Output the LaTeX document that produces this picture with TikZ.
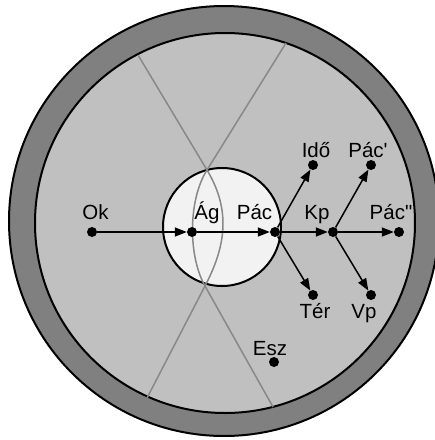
\documentclass[tikz,border=0pt]{standalone}
\usepackage{fontspec}
\setmainfont{Liberation Sans}[Ligatures=TeXOff]
\usetikzlibrary{arrows.meta}
\definecolor{ringgray}{RGB}{128,128,128}
\definecolor{discgray}{RGB}{192,192,192}
\definecolor{lensgray}{RGB}{242,242,242}
\definecolor{linegray}{RGB}{136,136,136}
\begin{document}
\begin{tikzpicture}[x=1pt,y=-1pt,
 dot/.style={circle,fill=black,inner sep=0pt,minimum size=10pt},
 lbl/.style={anchor=base,inner sep=0pt,font=\fontsize{20.5}{24}\selectfont},
 arr/.style={-{Triangle[length=12pt,width=9pt]},line width=1.5pt},
 cone/.style={draw=linegray,line width=1.5pt},
 rim/.style={draw=black,line width=2pt}]
\useasboundingbox (0,0) rectangle (435,440);
\draw[rim,fill=ringgray] (224,221) circle[radius=215];
\draw[rim,fill=discgray] (225,223) circle[radius=190];
\draw[rim,fill=lensgray] (222,227) circle[radius=59];
\draw[cone] (138,55) -- (207,170) .. controls (231,210) and (226,246) .. (205,286) -- (147,398);
\draw[cone] (286,43) -- (207,170) .. controls (188,200) and (188,256) .. (205,286) -- (273,407);
\node[dot] (ok) at (92,232) {};
\node[dot] (ag) at (192,232) {};
\node[dot] (pac) at (275,232) {};
\node[dot] (kp) at (333,232) {};
\node[dot] (pac2) at (399,232) {};
\node[dot] (ido) at (313,165) {};
\node[dot] (pac1) at (371,165) {};
\node[dot] (ter) at (313,295) {};
\node[dot] (vp) at (371,295) {};
\node[dot] (esz) at (274,362) {};
\node[lbl] (lok) at (95.5,219) {Ok};
\node[lbl] (lag) at (207,219) {Ág};
\node[lbl] (lpac) at (254.5,219) {Pác};
\node[lbl] (lkp) at (317,219) {Kp};
\node[lbl] (lpac2) at (391,219) {Pác"};
\node[lbl] (lido) at (316,157) {Idő};
\node[lbl] (lpac1) at (368,157) {Pác'};
\node[lbl] (lter) at (315,318) {Tér};
\node[lbl] (lvp) at (364,318) {Vp};
\node[lbl] (lesz) at (270,355) {Esz};
\draw[arr] (ok) -- (ag);
\draw[arr] (ag) -- (pac);
\draw[arr] (pac) -- (kp);
\draw[arr] (kp) -- (pac2);
\draw[arr] (pac) -- (ido);
\draw[arr] (pac) -- (ter);
\draw[arr] (kp) -- (pac1);
\draw[arr] (kp) -- (vp);
\end{tikzpicture}
\end{document}
